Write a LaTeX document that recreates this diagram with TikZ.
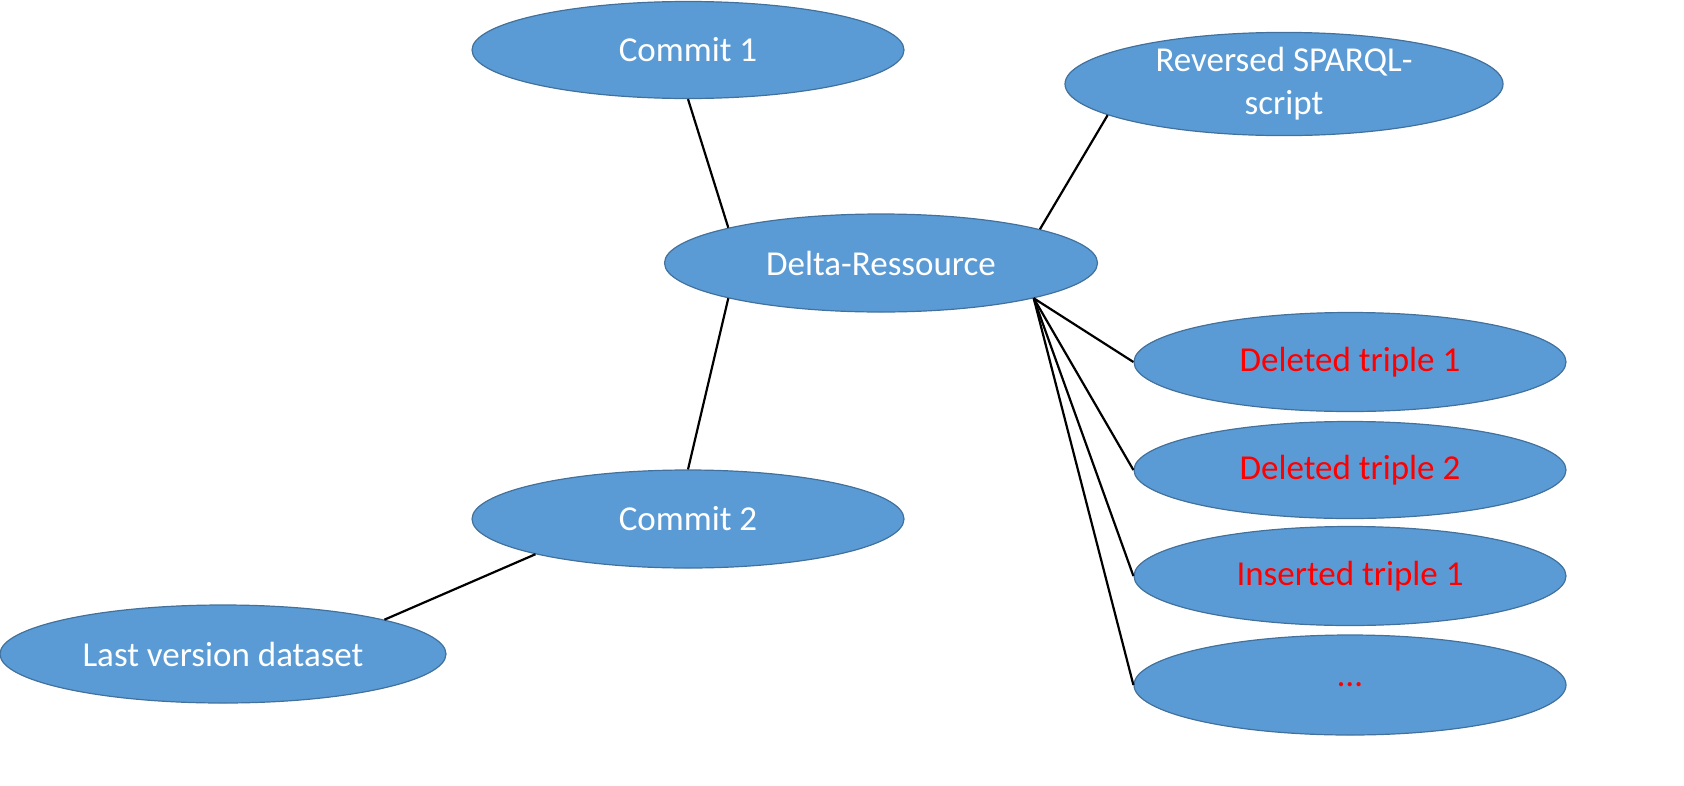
\documentclass[tikz,border=0pt]{standalone}
\usepackage{fontspec}
\setmainfont{Carlito}
\usetikzlibrary{shapes.geometric}
\definecolor{bfill}{HTML}{5B9BD5}
\definecolor{bdraw}{HTML}{41719C}
\definecolor{tred}{HTML}{FF0000}
\tikzset{
  oval/.style={ellipse, fill=bfill, draw=bdraw, line width=1.2pt, inner sep=0pt,
    minimum width=432pt, minimum height=97pt, text=white, font=\fontsize{35}{43}\selectfont, align=center},
  redtxt/.style={text=tred},
  link/.style={draw=black, line width=2.2pt}
}
\begin{document}
\begin{tikzpicture}[x=1pt,y=-1pt]
\useasboundingbox (0,0) rectangle (1684,785);
\node[oval] (c1) at (688,50) {Commit 1};
\node[oval, minimum width=438pt, minimum height=88pt] (rev) at (1284,84) {Reversed SPARQL-\\script};
\node[oval, minimum width=433pt, minimum height=98pt] (delta) at (881,263) {Delta-Ressource};
\node[oval, minimum height=98pt] (c2) at (688,519) {Commit 2};
\node[oval, minimum width=446pt, minimum height=98pt] (last) at (223,654) {Last version dataset};
\node[oval, redtxt, minimum height=99pt] (d1) at (1350,362) {Deleted triple 1};
\node[oval, redtxt] (d2) at (1350,470) {Deleted triple 2};
\node[oval, redtxt, minimum height=99pt] (i1) at (1350,576) {Inserted triple 1};
\node[oval, redtxt, minimum height=100pt] (etc) at (1350,685) {…};
\draw[link] (c1.south) -- (delta.167);
\draw[link] (delta.12.8) -- (rev.190.7);
\draw[link] (delta.193) -- (c2.north);
\draw[link] (c2.193.7) -- (last.12.8);
\draw[link] (delta.347) -- (d1.west);
\draw[link] (delta.347) -- (d2.west);
\draw[link] (delta.347) -- (i1.west);
\draw[link] (delta.347) -- (etc.west);
\end{tikzpicture}
\end{document}
